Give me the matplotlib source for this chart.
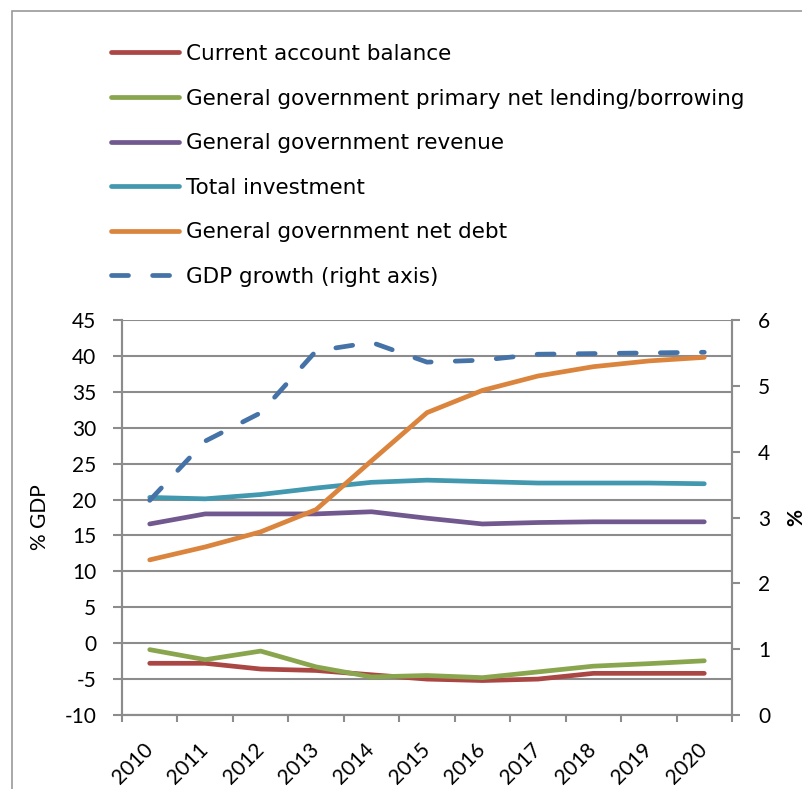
import matplotlib
matplotlib.use("Agg")
import matplotlib.pyplot as plt
from matplotlib.patches import Rectangle
import numpy as np

plt.rcParams["axes.unicode_minus"] = False

years = ["2010", "2011", "2012", "2013", "2014", "2015", "2016", "2017", "2018", "2019", "2020"]
current_account = [-2.8, -2.8, -3.6, -3.8, -4.4, -5.0, -5.2, -5.0, -4.2, -4.2, -4.2]
primary_balance = [-0.9, -2.3, -1.1, -3.3, -4.7, -4.5, -4.8, -4.0, -3.2, -2.85, -2.45]
revenue = [16.6, 18.0, 18.0, 18.0, 18.3, 17.4, 16.6, 16.8, 16.9, 16.9, 16.9]
investment = [20.3, 20.1, 20.7, 21.6, 22.4, 22.7, 22.5, 22.3, 22.3, 22.3, 22.2]
net_debt = [11.6, 13.4, 15.5, 18.6, 25.4, 32.1, 35.2, 37.2, 38.5, 39.3, 39.8]
gdp_growth = [3.26, 4.16, 4.59, 5.53, 5.66, 5.36, 5.39, 5.48, 5.49, 5.50, 5.51]

labels = ["Current account balance",
          "General government primary net lending/borrowing",
          "General government revenue",
          "Total investment",
          "General government net debt",
          "GDP growth (right axis)"]
colors = ["#AA4643", "#89A54E", "#71588F", "#4198AF", "#DB843D", "#4572A7"]

W, H = 803, 789
fig = plt.figure(figsize=(W / 100, H / 100), dpi=100)

# outer chart border
fig.patches.append(Rectangle((12 / W, -0.1), 1.2, 1 - 11 / H + 0.1, transform=fig.transFigure,
                             fill=False, edgecolor="#9a9a9a", linewidth=1.2))

ax = fig.add_axes([122 / W, 1 - 715 / H, 610 / W, 395 / H])
ax2 = ax.twinx()

LW = 3.4
x = np.arange(len(years))
series = [current_account, primary_balance, revenue, investment, net_debt]
handles = []
for s, c, l in zip(series, colors[:5], labels[:5]):
    h, = ax.plot(x, s, color=c, lw=LW, solid_capstyle="round", solid_joinstyle="round", label=l, zorder=3)
    handles.append(h)
h, = ax2.plot(x, gdp_growth, color=colors[5], lw=LW, dashes=(3.6, 5.1), dash_capstyle="round",
              label=labels[5], zorder=3)
handles.append(h)

grid_c = "#8c8c8c"
ax.set_ylim(-10, 45)
ax.set_yticks(np.arange(-10, 46, 5))
ax2.set_ylim(0, 6)
ax2.set_yticks(np.arange(0, 7, 1))
ax.set_xlim(-0.5, len(years) - 0.5)
ax.yaxis.grid(True, color=grid_c, lw=1.5)
ax.set_axisbelow(True)

ax.set_xticks(np.arange(-0.5, len(years), 1.0))
ax.set_xticklabels([])
ax.set_xticks(x, minor=True)
ax.set_xticklabels(years, minor=True, rotation=45, ha="right", va="center", rotation_mode="anchor",
                   fontsize=15, family="Lato")
ax.tick_params(axis="x", which="major", length=5, width=1.5, color=grid_c, direction="out")
ax.tick_params(axis="x", which="minor", length=0, pad=23)
ax.tick_params(axis="y", length=6.5, width=1.5, color=grid_c, labelsize=15, pad=12)
ax2.tick_params(axis="y", length=5.8, width=1.5, color=grid_c, labelsize=15, pad=13)
for lab in ax.get_yticklabels() + ax2.get_yticklabels():
    lab.set_family("Lato")

for a in (ax, ax2):
    for sp in a.spines.values():
        sp.set_color(grid_c)
        sp.set_linewidth(1.5)
    a.spines["top"].set_visible(False)

ax.set_ylabel("% GDP", fontsize=15, family="Lato")
ax.yaxis.set_label_coords(-0.118, 0.5)
ax2.set_ylabel("%", fontsize=15, family="Lato", rotation=90, fontweight="bold")
ax2.yaxis.set_label_coords(1.0885, 0.5)

fig.legend(handles=handles, labels=labels, loc="upper left",
           bbox_to_anchor=(111 / W, 1 - 44 / H), frameon=False,
           borderaxespad=0, borderpad=0, handlelength=3.15, handletextpad=0.33,
           labelspacing=1.14, prop={"family": "DejaVu Sans", "size": 15.5})

fig.savefig("out.png", dpi=100)
